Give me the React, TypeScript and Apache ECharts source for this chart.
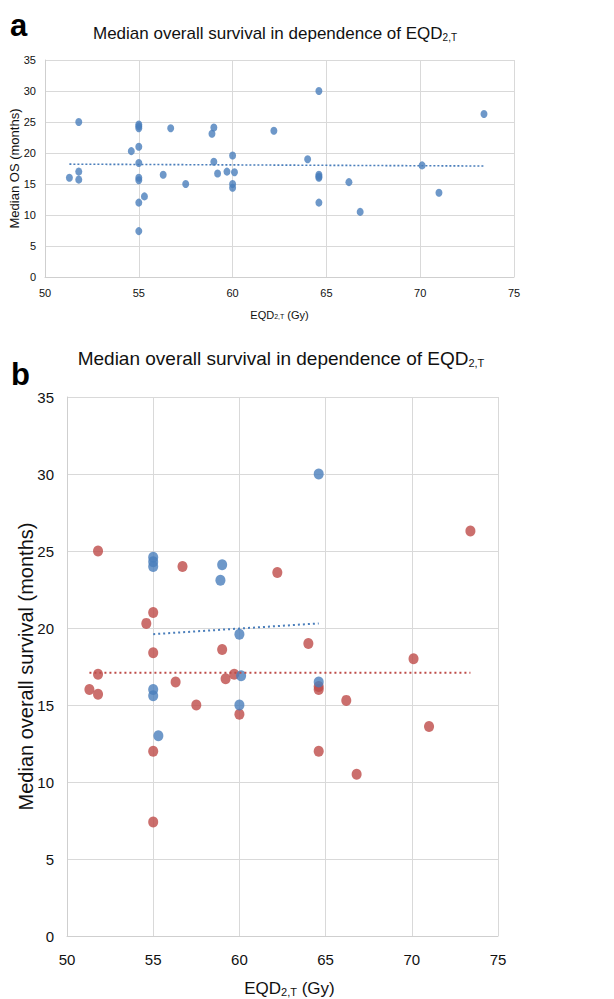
import React, { useEffect, useRef } from "react";
import * as echarts from "echarts";

// Panel b, group 1 (blue)
const blueX = [64.6, 55.0, 55.0, 55.0, 59.0, 58.9, 60.0, 55.0, 55.0, 60.1, 60.0, 64.6, 55.3];
const blueY = [30.0, 24.6, 24.3, 24.0, 24.1, 23.1, 19.6, 16.0, 15.6, 16.9, 15.0, 16.5, 13.0];
// Panel b, group 2 (red)
const redX = [51.8, 56.7, 62.2, 73.4, 55.0, 54.6, 55.0, 59.0, 64.0, 70.1, 51.8, 51.3, 51.8, 56.3, 57.5, 59.2, 59.7, 60.0, 64.6, 64.6, 66.2, 55.0, 64.6, 66.8, 71.0, 55.0];
const redY = [25.0, 24.0, 23.6, 26.3, 21.0, 20.3, 18.4, 18.6, 19.0, 18.0, 17.0, 16.0, 15.7, 16.5, 15.0, 16.7, 17.0, 14.4, 16.2, 16.0, 15.3, 12.0, 12.0, 10.5, 13.6, 7.4];

// Trend line endpoints
const trendAllX = [51.3, 73.4];
const trendAllY = [18.2, 17.9];
const trendBlueX = [55.0, 64.6];
const trendBlueY = [19.6, 20.3];
const trendRedX = [51.3, 73.4];
const trendRedY = [17.1, 17.1];

const xTicks = [50, 55, 60, 65, 70, 75];
const yTicks = [0, 5, 10, 15, 20, 25, 30, 35];

const BLUE = "#4A7EBB";
const RED = "#BE4B48";
const FONT = "'Liberation Sans', Arial, Helvetica, sans-serif";

const pairs = (xs: number[], ys: number[]) => xs.map((x, i) => [x, ys[i]]);

export default function App() {
  const ref = useRef<HTMLDivElement>(null);
  useEffect(() => {
    document.body.style.margin = "0";
    if (!ref.current) return;
    const chart = echarts.init(ref.current, null, { renderer: "svg" });

    const grid0 = { left: 45, top: 60, width: 469, height: 217 };
    const grid1 = { left: 67, top: 397, width: 431, height: 539 };

    const sub = (size: number) => ({
      fontSize: size,
      fontFamily: FONT,
      fontWeight: "normal" as const,
      color: "#111",
      verticalAlign: "bottom" as const,
    });
    const main = (size: number) => ({
      fontSize: size,
      fontFamily: FONT,
      fontWeight: "normal" as const,
      color: "#111",
      verticalAlign: "bottom" as const,
    });

    const xAxisBase = (gi: number, labelSize: number, nameSize: number, gap: number, labelMargin: number, shift: number) => ({
      type: "value",
      gridIndex: gi,
      min: xTicks[0],
      max: xTicks[xTicks.length - 1],
      interval: 5,
      name: "{m|EQD}{s|2,T}{m| (Gy)}",
      nameLocation: "middle",
      nameGap: gap,
      nameMoveOverlap: false,
      nameTextStyle: {
        padding: [0, 0, 0, shift],
        rich: { m: main(nameSize), s: sub(Math.round(nameSize * 0.62)) },
      },
      axisLine: { show: true, lineStyle: { color: "#cfcfcf", width: 1 } },
      axisTick: { show: false },
      splitLine: { show: true, lineStyle: { color: "#d9d9d9", width: 1 } },
      axisLabel: { fontSize: labelSize, fontFamily: FONT, color: "#111", margin: labelMargin },
    });
    const yAxisBase = (gi: number, name: string, labelSize: number, nameSize: number, gap: number, labelMargin: number) => ({
      type: "value",
      gridIndex: gi,
      min: yTicks[0],
      max: yTicks[yTicks.length - 1],
      interval: 5,
      name,
      nameLocation: "middle",
      nameGap: gap,
      nameMoveOverlap: false,
      nameTextStyle: { fontSize: nameSize, fontFamily: FONT, color: "#111" },
      axisLine: { show: true, lineStyle: { color: "#cfcfcf", width: 1 } },
      axisTick: { show: false },
      splitLine: { show: true, lineStyle: { color: "#d9d9d9", width: 1 } },
      axisLabel: { fontSize: labelSize, fontFamily: FONT, color: "#111", margin: labelMargin },
    });

    chart.setOption({
      animation: false,
      backgroundColor: "#ffffff",
      title: [
        {
          text: "{m|Median overall survival in dependence of EQD}{s|2,T}",
          left: 275,
          textAlign: "center",
          top: 25,
          padding: 0,
          textStyle: { fontWeight: "normal", rich: { m: main(17), s: sub(10) } },
        },
        {
          text: "{m|Median overall survival in dependence of EQD}{s|2,T}",
          left: 281,
          textAlign: "center",
          top: 349,
          padding: 0,
          textStyle: { fontWeight: "normal", rich: { m: main(19), s: sub(11) } },
        },
        {
          text: "a",
          left: 10,
          top: 10,
          padding: 0,
          textStyle: { fontSize: 31, fontWeight: "bold", fontFamily: FONT, color: "#000" },
        },
        {
          text: "b",
          left: 11,
          top: 359,
          padding: 0,
          textStyle: { fontSize: 31, fontWeight: "bold", fontFamily: FONT, color: "#000" },
        },
      ],
      grid: [
        { ...grid0, containLabel: false, outerBoundsMode: "none" },
        { ...grid1, containLabel: false, outerBoundsMode: "none" },
      ],
      xAxis: [xAxisBase(0, 11, 11, 32, 10, 0), xAxisBase(1, 15, 17, 44, 16, 14)],
      yAxis: [
        yAxisBase(0, "Median OS (months)", 11, 13, 24, 9),
        yAxisBase(1, "Median overall survival (months)", 15, 20, 31, 13),
      ],
      series: [
        {
          type: "scatter",
          xAxisIndex: 0,
          yAxisIndex: 0,
          data: pairs(blueX.concat(redX), blueY.concat(redY)),
          symbol: "circle",
          symbolSize: [7, 8],
          itemStyle: { color: BLUE },
          z: 3,
        },
        {
          type: "line",
          xAxisIndex: 0,
          yAxisIndex: 0,
          data: pairs(trendAllX, trendAllY),
          symbol: "none",
          lineStyle: { color: BLUE, width: 1.6, type: [2, 2] },
          z: 2,
        },
        {
          type: "scatter",
          xAxisIndex: 1,
          yAxisIndex: 1,
          data: pairs(redX, redY),
          symbol: "circle",
          symbolSize: [10, 11],
          itemStyle: { color: RED },
          z: 3,
        },
        {
          type: "scatter",
          xAxisIndex: 1,
          yAxisIndex: 1,
          data: pairs(blueX, blueY),
          symbol: "circle",
          symbolSize: [10, 11],
          itemStyle: { color: BLUE },
          z: 4,
        },
        {
          type: "line",
          xAxisIndex: 1,
          yAxisIndex: 1,
          data: pairs(trendBlueX, trendBlueY),
          symbol: "none",
          lineStyle: { color: BLUE, width: 2, type: [2, 3] },
          z: 5,
        },
        {
          type: "line",
          xAxisIndex: 1,
          yAxisIndex: 1,
          data: pairs(trendRedX, trendRedY),
          symbol: "none",
          lineStyle: { color: RED, width: 2, type: [2, 3] },
          z: 5,
        },
      ],
    });
    return () => chart.dispose();
  }, []);
  return <div ref={ref} style={{ width: 614, height: 999 }} />;
}
